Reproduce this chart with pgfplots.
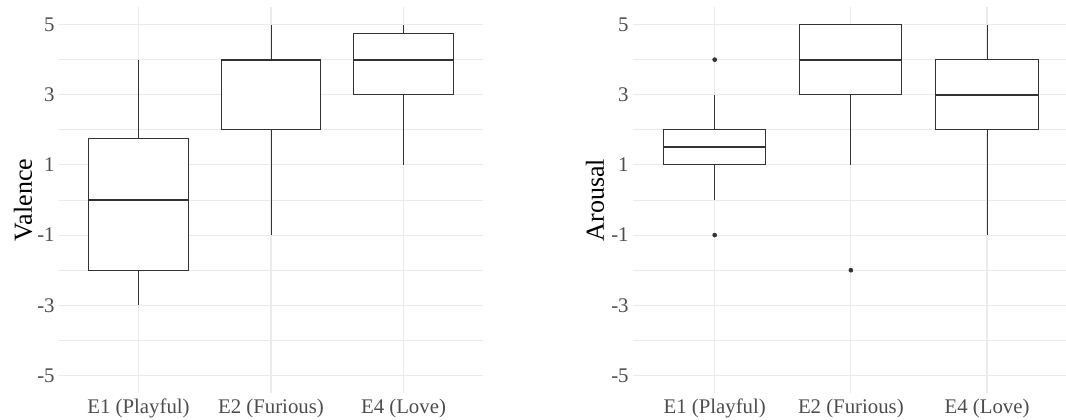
\documentclass[border=0pt]{standalone}
\usepackage{fontspec}
\setmainfont{Liberation Serif}
\usepackage{pgfplots}
\pgfplotsset{compat=1.18}
\usepgfplotslibrary{statistics}
\definecolor{gridc}{HTML}{EBEBEB}
\definecolor{boxc}{HTML}{333333}
\definecolor{tickc}{HTML}{4D4D4D}
\pgfplotsset{
  mystyle/.style={
    scale only axis,
    height=193pt,
    ymin=-5.5, ymax=5.5,
    xmin=0.4,
    axis line style={draw=none},
    tick style={draw=none},
    major tick length=0pt, minor tick length=0pt,
    xtick={1,2,3},
    xticklabels={E1 (Playful), E2 (Furious), E4 (Love)},
    ytick={-5,-3,-1,1,3,5},
    yticklabels={-5,-3,-1,1,3,5},
    minor ytick={-4,-2,0,2,4},
    xmajorgrids, ymajorgrids, yminorgrids,
    major grid style={color=gridc, line width=0.55pt},
    minor grid style={color=gridc, line width=0.35pt},
    xticklabel style={anchor=base, yshift=-10pt, font=\fontsize{10.4}{12}\selectfont, text=tickc},
    yticklabel style={anchor=east, inner sep=0pt, xshift=-2pt, font=\fontsize{10.4}{12}\selectfont, text=tickc},
    boxplot/draw direction=y,
    boxplot/box extend=0.75,
    boxplot/whisker extend=0,
    boxplot/every box/.style={fill=white, line width=0.5pt},
    boxplot/every whisker/.style={line width=0.4pt},
    boxplot/every median/.style={line width=1.05pt},
    every axis plot/.append style={draw=boxc, line width=0.5pt, mark=*, mark size=1pt, mark options={fill=boxc, draw=boxc, line width=0.3pt}},
  },
}
\begin{document}
\begin{tikzpicture}
\path[use as bounding box] (0,0) rectangle (533pt,209.5pt);
% Left panel: Valence
\begin{axis}[mystyle,
  at={(29.5pt,13pt)}, anchor=south west,
  width=212pt, xmax=3.6,
  ylabel={Valence},
  every axis y label/.style={at={(axis description cs:-0.085,0.5)}, rotate=90, anchor=center, font=\fontsize{13}{15}\selectfont, text=black},
]
\addplot[boxplot prepared={draw position=1, lower whisker=-3, lower quartile=-2, median=0, upper quartile=1.75, upper whisker=4}] coordinates {};
\addplot[boxplot prepared={draw position=2, lower whisker=-1, lower quartile=2, median=4, upper quartile=4, upper whisker=5}] coordinates {};
\addplot[boxplot prepared={draw position=3, lower whisker=1, lower quartile=3, median=4, upper quartile=4.75, upper whisker=5}] coordinates {};
\end{axis}
% Right panel: Arousal
\begin{axis}[mystyle,
  at={(316.5pt,13pt)}, anchor=south west,
  width=216.5pt, xmax=3.58,
  ylabel={Arousal},
  every axis y label/.style={at={(axis description cs:-0.088,0.5)}, rotate=90, anchor=center, font=\fontsize{13}{15}\selectfont, text=black},
]
\addplot[boxplot prepared={draw position=1, lower whisker=0, lower quartile=1, median=1.5, upper quartile=2, upper whisker=3}] table[row sep=\\, y index=0] {data\\ 4\\ -1\\};
\addplot[boxplot prepared={draw position=2, lower whisker=1, lower quartile=3, median=4, upper quartile=5, upper whisker=5}] table[row sep=\\, y index=0] {data\\ -2\\};
\addplot[boxplot prepared={draw position=3, lower whisker=-1, lower quartile=2, median=3, upper quartile=4, upper whisker=5}] coordinates {};
\end{axis}
\end{tikzpicture}
\end{document}
